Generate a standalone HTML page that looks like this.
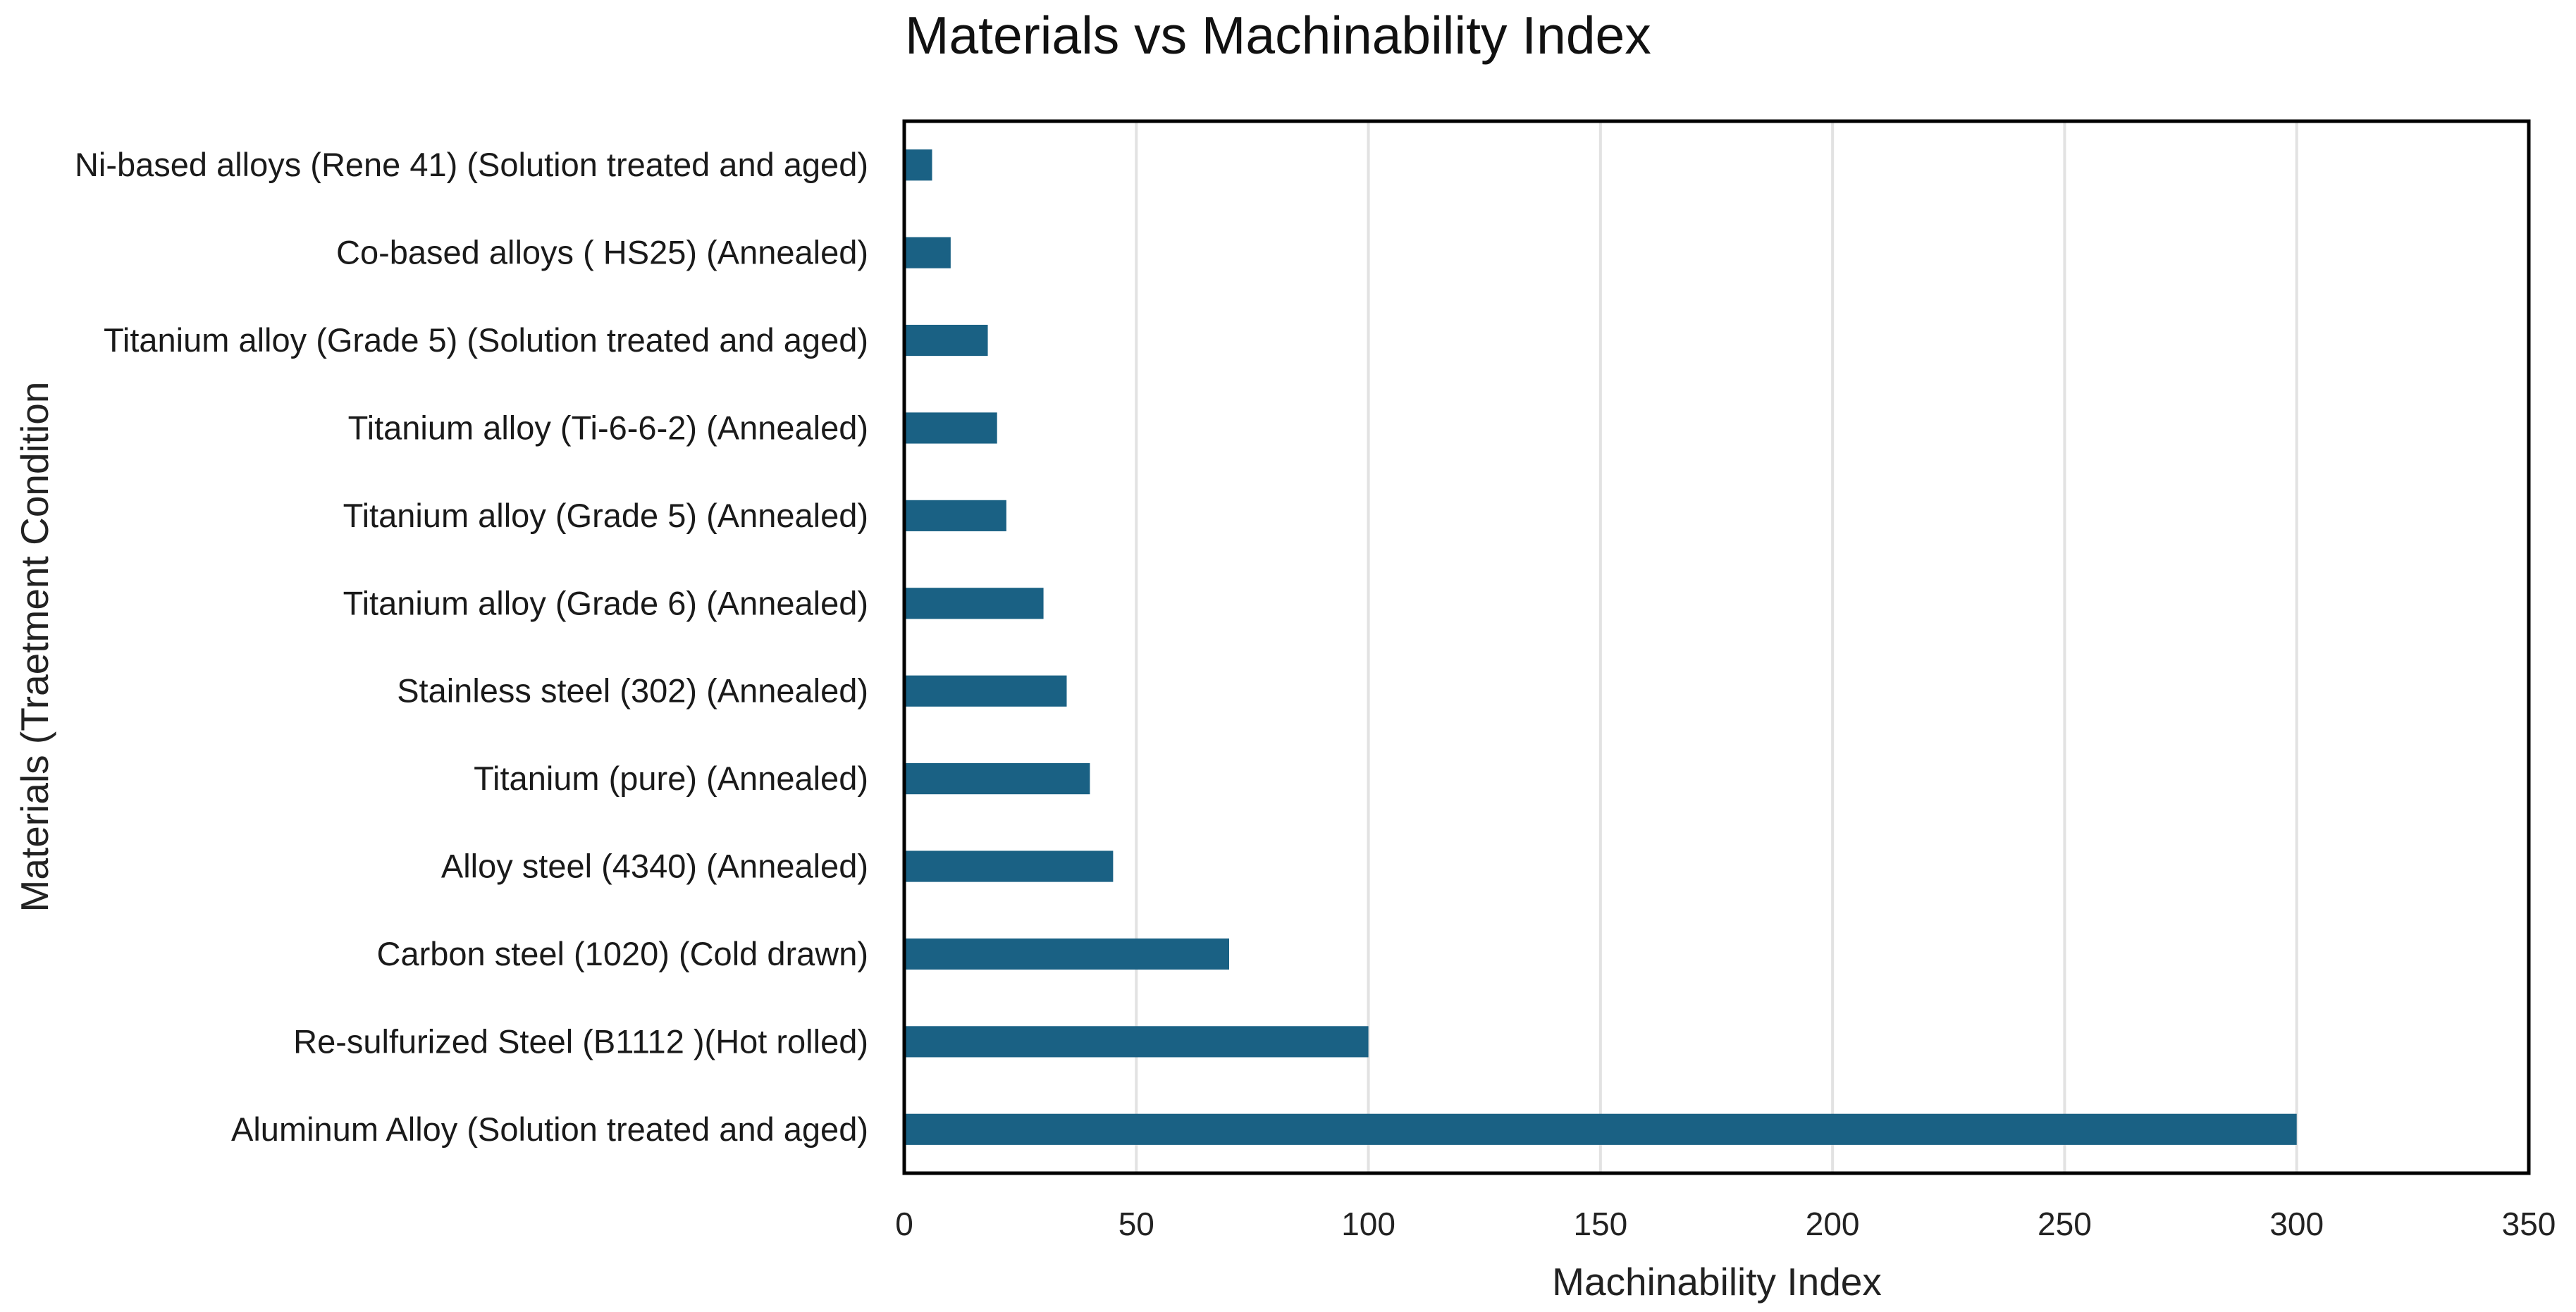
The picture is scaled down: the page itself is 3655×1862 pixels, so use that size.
<!DOCTYPE html>
<html><head><meta charset="utf-8"><style>
html,body{margin:0;padding:0;background:#fff;}
svg{display:block;font-family:"Liberation Sans",sans-serif;}
</style></head><body>
<svg id="chart" width="3655" height="1862" viewBox="0 0 3655 1862" xmlns="http://www.w3.org/2000/svg">
<rect width="3655" height="1862" fill="#fff"/>
<text x="1284" y="76" font-size="75" fill="#111">Materials vs Machinability Index</text>
<g id="grid"></g>
<g id="bars"></g>
<g id="ylabels"></g>
<g id="xlabels"></g>
<rect x="1283" y="172" width="2305" height="1493" fill="none" stroke="#000" stroke-width="5"/>
<text x="2436" y="1838" font-size="55" text-anchor="middle" fill="#222">Machinability Index</text>
<text transform="translate(68,918) rotate(-90)" font-size="55" text-anchor="middle" fill="#222">Materials (Traetment Condition</text>
</svg>
<script>
const categories = ["Ni-based alloys (Rene 41) (Solution treated and aged)","Co-based alloys ( HS25) (Annealed)","Titanium alloy (Grade 5) (Solution treated and aged)","Titanium alloy (Ti-6-6-2) (Annealed)","Titanium alloy (Grade 5) (Annealed)","Titanium alloy (Grade 6) (Annealed)","Stainless steel (302) (Annealed)","Titanium (pure) (Annealed)","Alloy steel (4340) (Annealed)","Carbon steel (1020) (Cold drawn)","Re-sulfurized Steel (B1112 )(Hot rolled)","Aluminum Alloy (Solution treated and aged)"];
const values = [6,10,18,20,22,30,35,40,45,70,100,300];
const xTicks = [0,50,100,150,200,250,300,350];
const NS="http://www.w3.org/2000/svg";
const L=1283,R=3588,T=172,B=1665,XMAX=350;
function xs(v){return L+(v/XMAX)*(R-L);}
const band=(B-T)/categories.length;
function yc(i){return T+band*(i+0.5);}
function mk(tag,attrs,parent){const e=document.createElementNS(NS,tag);for(const k in attrs)e.setAttribute(k,attrs[k]);document.getElementById(parent).appendChild(e);return e;}
xTicks.forEach((t,i)=>{
  if(t>0&&t<XMAX){const g=mk('line',{x1:xs(t),x2:xs(t),y1:T,y2:B,stroke:'#e2e2e2','stroke-width':4},'grid');
  
  }
  const tx=mk('text',{x:xs(t),y:1753,'font-size':46,'text-anchor':'middle',fill:'#222'},'xlabels');
  tx.textContent=t;
  
  
});
const bh=band*0.355;
categories.forEach((c,i)=>{
  const r=mk('rect',{x:L,y:yc(i)-bh/2,width:xs(values[i])-L,height:bh,fill:'#1a6184'},'bars');
  
  
  const t=mk('text',{x:1232,y:yc(i)+16,'font-size':47,'text-anchor':'end',fill:'#1a1a1a'},'ylabels');
  t.textContent=c;
  
  
});
</script>
</body></html>
